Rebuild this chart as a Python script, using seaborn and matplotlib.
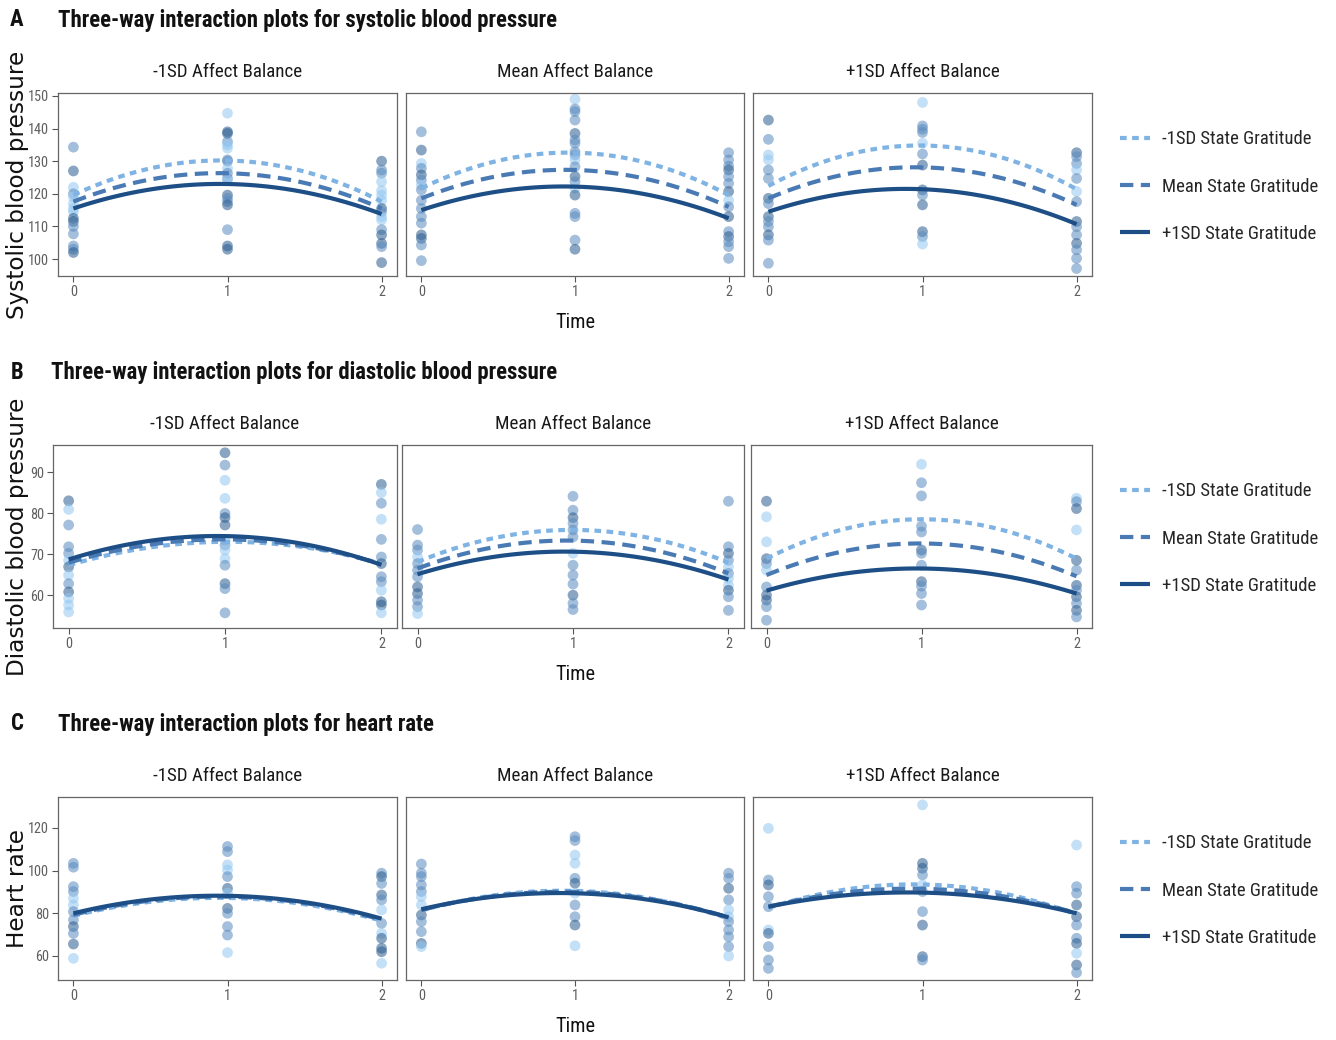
import matplotlib
matplotlib.use("Agg")
import matplotlib.pyplot as plt
from matplotlib import font_manager
from matplotlib.font_manager import FontProperties
from matplotlib.lines import Line2D
import seaborn as sns
import pandas as pd
import numpy as np

# ---------------- data ----------------
times = [0, 1, 2]
facets = ["-1SD Affect Balance", "Mean Affect Balance", "+1SD Affect Balance"]
grat_levels = ["-1SD State Gratitude", "Mean State Gratitude", "+1SD State Gratitude"]
grat_codes = ["L", "M", "D"]

# Systolic blood pressure: observed points per time (values, group codes)
sbp_lo_vals = [[134.3, 127, 122, 120, 119, 117, 115.5, 114.5, 112.5, 111.5, 110, 107.7, 104, 103, 102],
               [144.7, 139, 138.5, 136, 135, 134, 130.4, 130, 127.8, 126.3, 124.7, 124.2, 119.6, 118.6, 117.6, 116.6, 109, 104, 103],
               [130, 127.3, 126.3, 123.7, 121, 119.6, 118, 115.5, 114.5, 113, 112, 109, 107.4, 104.8, 103.8, 98.9]]
sbp_lo_grps = ["MDLMLLLLDDMMMMD", "LDDMLLMMLMMLDMMDMDD", "DMMLLLLDMLLMDDMD"]
sbp_mn_vals = [[139, 133.4, 129.3, 127.8, 125.8, 124.2, 122.7, 121.2, 118, 115.5, 113, 111, 107.4, 106.3, 104.3, 99.5],
               [149, 146, 145.2, 142.6, 138.5, 136.5, 135.5, 132.9, 131.9, 130.4, 128.3, 125.3, 123.7, 121.7, 119.6, 114, 113, 105.8, 103],
               [132.6, 130.4, 128.5, 127.3, 125.3, 123.2, 120.7, 118, 116, 113, 108.4, 106.9, 105.3, 103.8, 100.2]]
sbp_mn_grps = ["MDLMDMLMMMMMDDMM", "LMMMDMMMMLMDMLDMMMD", "MMMDMMDLMDMDMMM"]
sbp_hi_vals = [[142.6, 136.7, 131.9, 130.4, 127.3, 124.7, 118.6, 117, 113, 111.5, 109.9, 107.4, 105.8, 98.7],
               [148, 140.8, 139.8, 138.8, 135.5, 132.2, 128.8, 121.2, 119.6, 116.6, 108.4, 106.9, 104.6],
               [132.6, 131.4, 129.3, 127.3, 124.7, 120.7, 117.6, 111.5, 109.9, 107.4, 104.8, 102.8, 100.2, 97.1]]
sbp_hi_grps = ["DMLLMMDMDMMDMM", "LMMMLMDDMDDML", "DMMLMLMDMMDMMM"]

# Diastolic blood pressure
dbp_lo_vals = [[83, 80.9, 77.1, 71.8, 70.2, 68.5, 66.9, 64.9, 62.8, 60.8, 59.2, 57.6, 55.9],
               [94.7, 91.7, 88, 83.6, 79.9, 78.9, 77.1, 73.4, 72.2, 71, 68.9, 67.3, 62.8, 61.6, 55.7],
               [87, 85, 82.4, 78.5, 73.6, 69.3, 67.7, 64.5, 63.3, 61.2, 58.4, 57.6, 55.7]]
dbp_lo_grps = ["DLMMMLDLMDLLL", "DMLLMDDLMLLMDMM", "DLMLMMDMMLDDL"]
dbp_mn_vals = [[76, 72.2, 71, 69.3, 67.7, 66.1, 64.5, 62, 60.4, 58.8, 57.2, 55.5],
               [84.1, 80.7, 78.9, 77.5, 75.9, 74.2, 70.2, 67.3, 64.9, 62.7, 60, 58, 56.5],
               [82.9, 71.8, 70.2, 68.5, 66.9, 65.3, 64.1, 62.4, 61.2, 59.6, 56.3]]
dbp_mn_grps = ["MMMLMMMDDMML", "MMDMMMLMMMDMM", "MMDMLMLLDMM"]
dbp_hi_vals = [[82.9, 79.1, 73, 68.9, 67.7, 66.1, 62, 60, 58.8, 57.2, 53.9],
               [91.9, 87.4, 84.2, 76.8, 75.4, 71, 70.2, 67.3, 63.3, 62.2, 60.4, 57.6],
               [83.6, 82.8, 81.1, 75.9, 68.5, 66.1, 62.4, 61.2, 59.6, 58, 56.3, 54.7]]
dbp_hi_grps = ["DLLDMLMDDMM", "LMMMMDMMDMMM", "LMDLDMDMDMDM"]

# Heart rate
hr_lo_vals = [[103.4, 101.6, 92.5, 90.2, 87, 83.9, 80.8, 76.9, 73.8, 70.6, 65.6, 58.9],
              [111.3, 108.9, 102.7, 100.3, 97.2, 91.7, 89.4, 82.3, 80, 73.8, 69.8, 61.6],
              [98.8, 97.2, 94, 88.6, 86.3, 81.6, 75.3, 70.6, 68.3, 63.6, 62, 56.6]]
hr_lo_grps = ["MMMMLLMMDMDL", "MMLLMDLDMMML", "MDMDMLMLDDDL"]
hr_mn_vals = [[103.1, 98.8, 97.2, 93.3, 90.2, 87.8, 83.9, 79.2, 76.1, 71.4, 65.9, 64.4],
              [115.9, 114.1, 107.3, 103.4, 96.4, 94.1, 89.4, 83.9, 78.4, 74.5, 64.8],
              [98.8, 96.4, 91.7, 86.3, 81.6, 78.4, 76.1, 72.2, 69, 64.4, 60]]
hr_mn_grps = ["MMMMMLLDMMDL", "MMLLMDLMMDL", "MMDMLLMMMML"]
hr_hi_vals = [[119.8, 95.6, 93.3, 87.8, 83.1, 72.2, 70.6, 64.4, 58.1, 54.2],
              [130.8, 103.4, 101.1, 98, 93.3, 90.2, 80.8, 74.5, 59.7, 58.1],
              [112, 92.5, 89.4, 83.9, 78.4, 74.5, 68.3, 65.9, 61.3, 55.8, 52.2]]
hr_hi_grps = ["LMDMMLDMMM", "LDDMLMMDDM", "LMMDDMMDLDM"]

# Fitted quadratic curves: predicted values at time 0, 1, 2 (L=-1SD, M=Mean, D=+1SD gratitude)
sbp_lo_fit = {"L": [119.6, 130.2, 117.6], "M": [117.6, 126.3, 115.5], "D": [115.5, 123.0, 113.8]}
sbp_mn_fit = {"L": [121.7, 132.6, 119.6], "M": [118.6, 127.3, 116.0], "D": [115.0, 122.2, 112.5]}
sbp_hi_fit = {"L": [122.4, 134.8, 121.4], "M": [118.6, 128.1, 116.6], "D": [114.5, 121.4, 110.7]}
dbp_lo_fit = {"L": [67.3, 73.0, 67.7], "M": [67.9, 73.6, 67.5], "D": [68.7, 74.4, 67.4]}
dbp_mn_fit = {"L": [68.1, 75.9, 67.9], "M": [66.5, 73.3, 65.3], "D": [65.1, 70.6, 63.8]}
dbp_hi_fit = {"L": [68.9, 78.5, 68.9], "M": [64.9, 72.6, 64.6], "D": [61.1, 66.5, 60.4]}
hr_lo_fit = {"L": [78.8, 87.2, 76.5], "M": [79.3, 87.8, 77.0], "D": [80.0, 88.2, 77.5]}
hr_mn_fit = {"L": [81.3, 90.5, 77.5], "M": [81.5, 90.0, 78.0], "D": [81.9, 89.4, 78.1]}
hr_hi_fit = {"L": [82.5, 93.5, 79.5], "M": [83.0, 91.5, 80.0], "D": [83.1, 89.7, 80.0]}

sbp_ticks = [100, 110, 120, 130, 140, 150]
dbp_ticks = [60, 70, 80, 90]
hr_ticks = [60, 80, 100, 120]

# ---------------- style ----------------
sns.set_style("white")
plt.rcParams["font.family"] = ["Liberation Sans", "DejaVu Sans"]


def _is_bold(f):
    w = f.weight
    if isinstance(w, str):
        return w in ("bold", "heavy", "extra bold", "black", "demibold", "semibold")
    return w >= 600


def pick_narrow(bold):
    fl = font_manager.fontManager.ttflist
    prefs = ["Liberation Sans Narrow", "Arial Narrow", "Roboto Condensed", "Open Sans Condensed",
             "Noto Sans Condensed", "Noto Sans Display Condensed"]
    for p in prefs:
        for f in fl:
            if f.name == p and _is_bold(f) == bold and f.style == "normal":
                return FontProperties(fname=f.fname)
    for fam in ["Liberation Sans", "Noto Sans", "Open Sans", "DejaVu Sans", "Roboto", "Lato"]:
        for f in fl:
            if f.name == fam and f.stretch in ("condensed", "semi-condensed", "extra-condensed") \
                    and _is_bold(f) == bold and f.style == "normal":
                return FontProperties(fname=f.fname)
    return FontProperties(family="Liberation Sans", weight="bold" if bold else "normal")


FP_REG = pick_narrow(False)
FP_BOLD = pick_narrow(True)
FP_WIDE = FontProperties(family="DejaVu Sans")

point_col = {"L": "#93c8f2", "M": "#5a8bbf", "D": "#2a5c8e"}
line_col = {"L": "#7fb3e3", "M": "#4a7ab4", "D": "#1d4f86"}
line_ls = {"L": (0, (1.6, 1.3)), "M": (0, (3.2, 1.8)), "D": "-"}
LW = 3.0

W, H = 1336, 1040
fig = plt.figure(figsize=(W / 100, H / 100), dpi=100)
renderer = fig.canvas.get_renderer()


def fit_size(text, fp, target_px):
    t = fig.text(0, 0, text, fontproperties=fp.copy())
    t.set_fontsize(20)
    bb = t.get_window_extent(renderer=renderer)
    t.remove()
    return 20 * target_px / bb.width


FS_TITLE = fit_size("Three-way interaction plots for systolic blood pressure", FP_BOLD, 500)
FS_STRIP = fit_size("-1SD Affect Balance", FP_REG, 150)
FS_LEG = fit_size("Mean State Gratitude", FP_REG, 156)
FS_TIME = fit_size("Time", FP_REG, 40)
FS_TICK = fit_size("150", FP_REG, 21)
FS_YLAB = fit_size("Systolic blood pressure", FP_WIDE, 268)


def fp(base, size):
    p = base.copy()
    p.set_size(size)
    return p


def rect(x0, x1, y0, y1):
    return [x0 / W, 1 - y1 / H, (x1 - x0) / W, (y1 - y0) / H]


def draw_row(vals_list, grps_list, fits, ylim, yticks, cols, ytop, ybot, letter, title,
             title_x, ylabel, ylabel_y, row_top):
    for k, (vals, grps, fit, (x0, x1)) in enumerate(zip(vals_list, grps_list, fits, cols)):
        ax = fig.add_axes(rect(x0, x1, ytop, ybot))
        rows = []
        for t, vv, gg in zip(times, vals, grps):
            for v, g in zip(vv, gg):
                rows.append({"Time": t, "value": v, "grp": g})
        df = pd.DataFrame(rows)
        sns.scatterplot(data=df, x="Time", y="value", hue="grp", palette=point_col,
                        alpha=0.55, s=60, linewidth=0, legend=False, ax=ax, zorder=2)
        for code in grat_codes:
            sns.regplot(x=np.array(times, dtype=float), y=np.array(fit[code]), order=2,
                        ci=None, scatter=False, truncate=True, ax=ax,
                        line_kws={"color": line_col[code], "lw": LW, "ls": line_ls[code],
                                  "zorder": 3, "solid_capstyle": "butt", "dash_capstyle": "butt"})
        ax.set_xlim(-0.1, 2.1)
        ax.set_ylim(*ylim)
        ax.set_xticks(times)
        ax.set_xticklabels([str(t) for t in times], fontproperties=fp(FP_REG, FS_TICK), color="#5f5f5f")
        if k == 0:
            ax.set_yticks(yticks)
            ax.set_yticklabels([str(t) for t in yticks], fontproperties=fp(FP_REG, FS_TICK), color="#5f5f5f")
        else:
            ax.set_yticks([])
        ax.tick_params(axis="both", length=4.5, width=0.8, color="#555555", pad=2,
                       left=(k == 0), bottom=True)
        ax.set_xlabel("")
        ax.set_ylabel("")
        for sp in ax.spines.values():
            sp.set_color("#666666")
            sp.set_linewidth(0.9)
        fig.text((x0 + x1) / 2 / W, 1 - (ytop - 21) / H, facets[k], ha="center", va="center",
                 fontproperties=fp(FP_REG, FS_STRIP), color="#1a1a1a")
    fig.text(575 / W, 1 - (ybot + 47) / H, "Time", ha="center", va="center",
             fontproperties=fp(FP_REG, FS_TIME), color="#111111")
    fig.text(18 / W, 1 - ylabel_y / H, ylabel, ha="center", va="center", rotation=90,
             fontproperties=fp(FP_WIDE, FS_YLAB), color="#111111")
    fig.text(17 / W, 1 - row_top / H, letter, ha="center", va="center",
             fontproperties=fp(FP_BOLD, FS_TITLE), color="#111111")
    fig.text(title_x / W, 1 - row_top / H, title, ha="left", va="center",
             fontproperties=fp(FP_BOLD, FS_TITLE), color="#111111")
    fs_px = FS_LEG * 100 / 72
    handles = [Line2D([0], [0], color=line_col[c], lw=LW, ls=line_ls[c], solid_capstyle="butt",
                      dash_capstyle="butt") for c in grat_codes]
    fig.legend(handles, grat_levels, loc="center left",
               bbox_to_anchor=(1120 / W, 1 - ((ytop + ybot) / 2 + 2) / H),
               frameon=False, borderpad=0, borderaxespad=0,
               handlelength=30 / fs_px, handletextpad=12 / fs_px,
               labelspacing=(47 - 0.95 * fs_px) / fs_px,
               prop=fp(FP_REG, FS_LEG))


cols_ac = [(58, 397), (406, 744), (753, 1092)]
cols_b = [(53, 397), (402, 744), (751, 1092)]

draw_row([sbp_lo_vals, sbp_mn_vals, sbp_hi_vals], [sbp_lo_grps, sbp_mn_grps, sbp_hi_grps],
         [sbp_lo_fit, sbp_mn_fit, sbp_hi_fit], (94.8, 150.9), sbp_ticks, cols_ac, 93, 276,
         "A", "Three-way interaction plots for systolic blood pressure", 58,
         "Systolic blood pressure", 185, 20)
draw_row([dbp_lo_vals, dbp_mn_vals, dbp_hi_vals], [dbp_lo_grps, dbp_mn_grps, dbp_hi_grps],
         [dbp_lo_fit, dbp_mn_fit, dbp_hi_fit], (52.0, 96.6), dbp_ticks, cols_b, 445, 628,
         "B", "Three-way interaction plots for diastolic blood pressure", 51,
         "Diastolic blood pressure", 537, 372)
draw_row([hr_lo_vals, hr_mn_vals, hr_hi_vals], [hr_lo_grps, hr_mn_grps, hr_hi_grps],
         [hr_lo_fit, hr_mn_fit, hr_hi_fit], (48.75, 134.5), hr_ticks, cols_ac, 797, 980,
         "C", "Three-way interaction plots for heart rate", 58,
         "Heart rate", 889, 724)

fig.savefig("out.png", dpi=100)
